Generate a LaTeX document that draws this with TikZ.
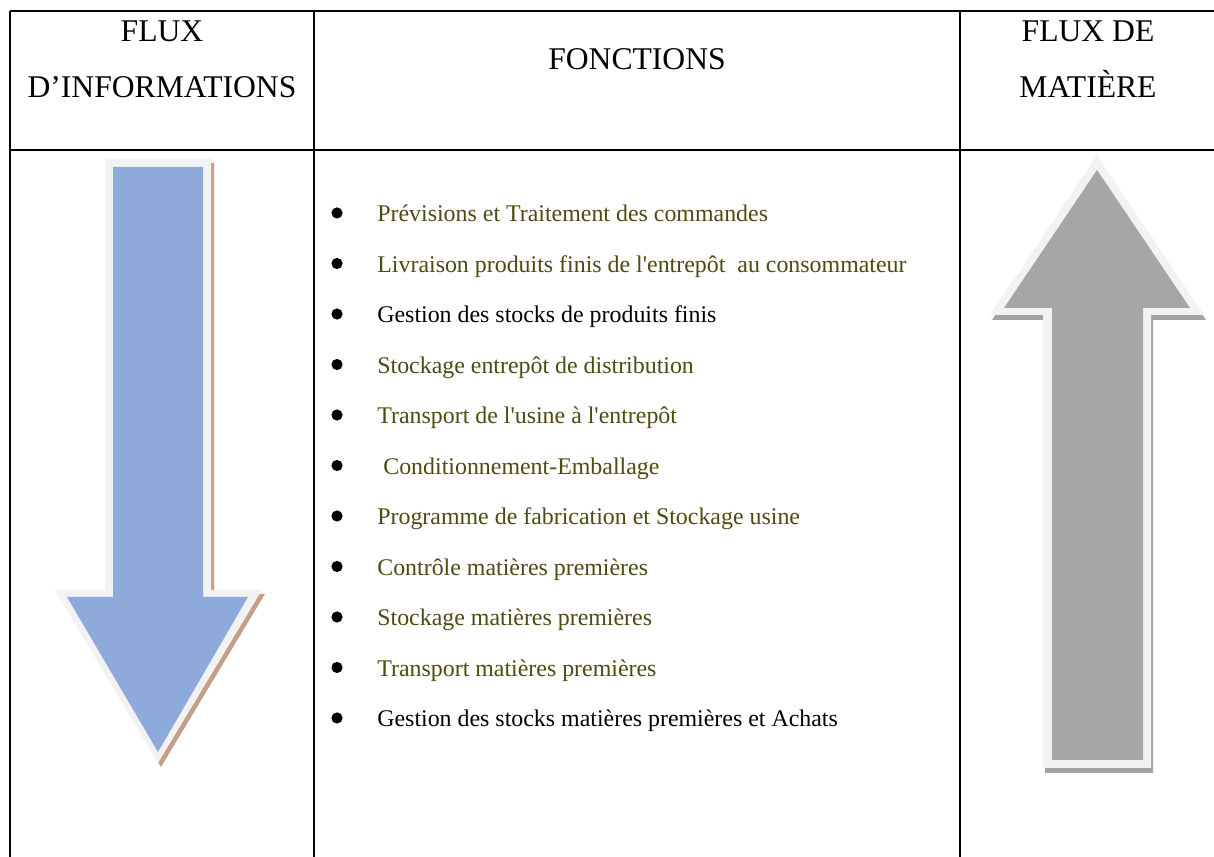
\documentclass[tikz,border=0pt]{standalone}
\usepackage{fontspec}
\setmainfont{Liberation Serif}
\usepackage{xcolor}
\usepackage{tikz}
\definecolor{infoblue}{HTML}{8EAADB}
\definecolor{framegray}{HTML}{F2F2F2}
\definecolor{infoshadow}{HTML}{C29F86}
\definecolor{matgray}{HTML}{A6A6A6}
\definecolor{matshadow}{HTML}{A3A3A3}
\definecolor{itemolive}{HTML}{4D4A12}

\begin{document}
\begin{tikzpicture}[x=0.02cm,y=-0.02cm,
    gridline/.style={line width=1.6pt,black},
    headtext/.style={anchor=base,inner sep=0pt,font=\fontsize{18}{22}\selectfont},
    itemtext/.style={anchor=base west,inner sep=0pt,font=\fontsize{13.6}{16}\selectfont}]
    \useasboundingbox (0,0) rectangle (1214,857);
    \def\itemstart{222}
    \def\itemstep{50.5}
    \def\q{\textquotesingle}

    % table rules
    \draw[gridline] (10,11) -- (1214,11);
    \draw[gridline] (10,150) -- (1214,150);
    \foreach \x in {10,314,960}
      \draw[gridline] (\x,11) -- (\x,857);

    % column headings
    \node[headtext] (infoA) at (162,42) {FLUX};
    \node[headtext] (infoB) at (162,98) {D’INFORMATIONS};
    \node[headtext] (fonctions) at (637,70) {FONCTIONS};
    \node[headtext] (matA) at (1088,42) {FLUX DE};
    \node[headtext] (matB) at (1088,98) {MATIÈRE};

    % information flow, pointing down
    \fill[infoshadow,shift={(3,4)}]
      (105,159) -- (211,159) -- (211,590) -- (262,590) -- (158,763)
      -- (55,590) -- (105,590) -- cycle;
    \fill[framegray]
      (105,159) -- (211,159) -- (211,590) -- (262,590) -- (158,763)
      -- (55,590) -- (105,590) -- cycle;
    \fill[infoblue]
      (113,167) -- (203,167) -- (203,597) -- (248,597) -- (158,752)
      -- (67,597) -- (113,597) -- cycle;

    % material flow, pointing up
    \fill[matshadow,shift={(2,5)}]
      (1097,155) -- (1204,315) -- (1151,315) -- (1151,768)
      -- (1043,768) -- (1043,315) -- (990,315) -- cycle;
    \fill[framegray]
      (1097,155) -- (1204,315) -- (1151,315) -- (1151,768)
      -- (1043,768) -- (1043,315) -- (990,315) -- cycle;
    \fill[matgray]
      (1097,170) -- (1190,308) -- (1143,308) -- (1143,760)
      -- (1052,760) -- (1052,308) -- (1004,308) -- cycle;

    % list of functions
    \foreach \i/\col/\dx/\txt in {
        0/itemolive/0/{Prévisions et Traitement des commandes},
        1/itemolive/0/{Livraison produits finis de l\q entrepôt\ \ au consommateur},
        2/black/0/{Gestion des stocks de produits finis},
        3/itemolive/0/{Stockage entrepôt de distribution},
        4/itemolive/0/{Transport de l\q usine à l\q entrepôt},
        5/itemolive/6/{Conditionnement-Emballage},
        6/itemolive/0/{Programme de fabrication et Stockage usine},
        7/itemolive/0/{Contrôle matières premières},
        8/itemolive/0/{Stockage matières premières},
        9/itemolive/0/{Transport matières premières},
        10/black/0/{Gestion des stocks matières premières et Achats}} {
      \pgfmathsetmacro{\ybase}{\itemstart+\i*\itemstep}
      \fill (337,\ybase-9) circle[radius=5.6];
      \node[itemtext,text=\col] (item\i) at (377+\dx,\ybase) {\txt};
    }
\end{tikzpicture}
\end{document}
